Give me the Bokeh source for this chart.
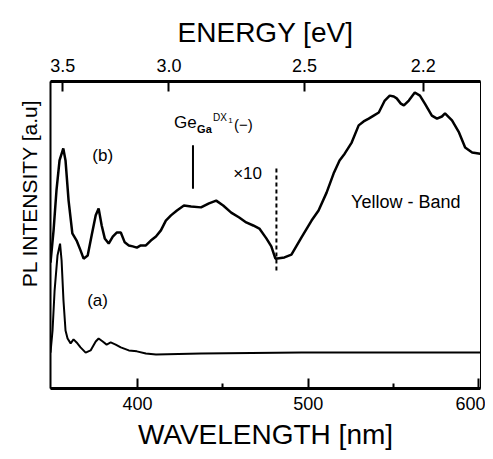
import math
from bokeh.plotting import figure
from bokeh.models import Range1d, LinearAxis, FixedTicker, Label, Title
from bokeh.embed import file_html
from bokeh.resources import INLINE

# ---- data ----
# curve (b): x10 spectrum (wavelength nm, intensity a.u.)
wl_b = [349.0, 350.8, 352.5, 354.3, 356.5, 357.8, 359.6, 361.8, 364.3, 366.6,
        368.4, 370.8, 373.1, 375.5, 377.2, 379.0, 380.8, 383.1, 385.5, 387.8,
        390.2, 392.5, 394.9, 397.2, 399.6, 401.9, 404.9, 407.8, 410.8, 413.7,
        416.6, 419.6, 423.1, 427.2, 431.4, 437.2, 441.9, 446.1, 450.2, 454.9,
        459.6, 463.7, 467.8, 471.4, 475.5, 478.4, 480.8, 486.1, 490.2, 496.1,
        502.0, 506.1, 510.8, 514.9, 518.4, 521.4, 525.5, 529.6, 532.5, 535.5,
        538.4, 541.4, 544.9, 547.8, 550.2, 551.9, 554.3, 556.1, 559.0, 562.5,
        565.5, 568.4, 572.5, 575.5, 578.4, 580.2, 584.3, 588.4, 592.0, 596.1,
        600.8]
int_b = [41.0, 51.5, 64.5, 74.3, 78.2, 74.3, 61.2, 50.5, 48.2, 45.0,
         42.3, 43.3, 49.8, 56.4, 58.6, 53.1, 48.9, 47.2, 49.5, 50.8,
         50.8, 47.6, 46.6, 46.3, 45.9, 46.6, 46.6, 48.2, 49.5, 51.5,
         54.7, 56.4, 58.0, 59.6, 59.3, 59.0, 60.3, 61.2, 59.6, 57.3,
         55.7, 54.1, 53.1, 52.1, 48.9, 46.3, 42.3, 42.7, 43.6, 49.2,
         54.7, 58.0, 63.8, 70.0, 74.3, 76.5, 80.1, 85.7, 87.0, 87.9,
         88.9, 89.9, 93.8, 95.4, 95.1, 94.5, 92.8, 92.2, 93.8, 96.4,
         95.4, 92.8, 88.9, 87.9, 88.6, 89.6, 87.3, 83.4, 78.5, 76.9,
         76.5]

# curve (a)
wl_a = [349.0, 350.2, 351.4, 353.1, 354.6, 355.5, 356.6, 357.8, 359.0, 360.8,
        362.5, 364.3, 366.6, 369.6, 372.5, 375.5, 377.2, 379.6, 381.9, 384.3,
        387.2, 390.2, 394.9, 399.6, 404.9, 410.8, 437.2, 496.1, 554.9, 600.8]
int_a = [11.7, 18.9, 31.9, 43.3, 47.2, 41.7, 28.7, 18.9, 16.3, 14.7,
         16.0, 15.0, 13.4, 11.7, 12.4, 15.3, 16.3, 15.3, 14.3, 15.0,
         14.3, 13.4, 12.4, 12.1, 11.4, 11.1, 11.4, 11.7, 11.7, 11.7]

wl_ticks = [400, 500, 600]
wl_minor = [450, 550]
energy_labels = ["3.5", "3.0", "2.5", "2.2"]
energy_tick_nm = [356.2, 418.4, 497.8, 567.5]

ge_line_nm = 432.5        # Ge_Ga DX(-) marker
x10_line_nm = 481.4       # x10 break (dashed)

FONT = "Liberation Sans"

p = figure(width=485, height=454, x_range=Range1d(349, 601), y_range=Range1d(0, 100),
           x_axis_type=None, y_axis_type=None, output_backend="svg",
           toolbar_location=None, min_border_left=50, min_border_right=5,
           min_border_top=81, min_border_bottom=66)
p.background_fill_color = "white"
p.border_fill_color = "white"
p.outline_line_color = "black"
p.outline_line_width = 1
p.xgrid.visible = False
p.ygrid.visible = False

# bottom axis
xb = LinearAxis(ticker=FixedTicker(ticks=wl_ticks, minor_ticks=wl_minor))
xb.axis_line_width = 3
xb.major_tick_in = 10
xb.major_tick_out = 0
xb.major_tick_line_width = 2
xb.minor_tick_in = 5
xb.minor_tick_out = 0
xb.minor_tick_line_width = 2
xb.major_label_standoff = 8
xb.major_label_text_font = FONT
xb.major_label_text_font_size = "18px"
xb.major_label_text_color = "black"
xb.axis_label = "WAVELENGTH [nm]"
xb.axis_label_text_font = FONT
xb.axis_label_text_font_size = "28px"
xb.axis_label_text_font_style = "normal"
xb.axis_label_text_color = "black"
xb.axis_label_standoff = 6
p.add_layout(xb, "below")

# top axis (energy)
xt = LinearAxis(ticker=FixedTicker(ticks=energy_tick_nm, minor_ticks=[]))
xt.major_label_overrides = {t: l for t, l in zip(energy_tick_nm, energy_labels)}
xt.axis_line_width = 3
xt.major_tick_in = 10
xt.major_tick_out = 0
xt.major_tick_line_width = 2
xt.minor_tick_in = 0
xt.minor_tick_out = 0
xt.major_label_standoff = 10
xt.major_label_text_font = FONT
xt.major_label_text_font_size = "18px"
xt.major_label_text_color = "black"
xt.axis_label = "ENERGY [eV]"
xt.axis_label_text_font = FONT
xt.axis_label_text_font_size = "28px"
xt.axis_label_text_font_style = "normal"
xt.axis_label_text_color = "black"
xt.axis_label_standoff = 8
p.add_layout(xt, "above")

# left axis: line only
yl = LinearAxis(ticker=FixedTicker(ticks=[], minor_ticks=[]))
yl.axis_line_width = 2
yl.major_tick_in = 0
yl.major_tick_out = 0
yl.minor_tick_in = 0
yl.minor_tick_out = 0
yl.major_label_text_font_size = "0px"
p.add_layout(yl, "left")

# y title as a left-side title, near the top of the frame
p.add_layout(Title(text="PL INTENSITY  [a.u]", align="right", offset=12,
                   text_font=FONT, text_font_size="21px", text_font_style="normal",
                   text_color="black", standoff=20), "left")

# curves
p.line(wl_b, int_b, line_color="black", line_width=2.5)
p.line(wl_a, int_a, line_color="black", line_width=2)

# marker lines
p.segment(x0=[ge_line_nm], y0=[65.1], x1=[ge_line_nm], y1=[79.2], line_color="black", line_width=2)
p.segment(x0=[x10_line_nm], y0=[38.4], x1=[x10_line_nm], y1=[71.7], line_color="black",
          line_width=2, line_dash="4 3")

def lab(x, y, text, size, align="center", baseline="middle", **kw):
    p.add_layout(Label(x=x, y=y, text=text, text_font=FONT, text_font_size=size,
                       text_align=align, text_baseline=baseline, text_color="black", **kw))

lab(379.6, 75.9, "(b)", "17px")
lab(376.6, 28.7, "(a)", "17px")
lab(464.5, 70.0, "×10", "17px")
lab(557.2, 60.6, "Yellow - Band", "18px")

# Ge_Ga^DX1(-)
lab(421.4, 86.5, "Ge", "17px", align="left", baseline="alphabetic")
lab(434.9, 84.5, "Ga", "11px", align="left", baseline="alphabetic", text_font_style="bold")
lab(444.3, 88.3, "DX", "10px", align="left", baseline="alphabetic")
lab(453.1, 87.3, "1", "8px", align="left", baseline="alphabetic")
lab(456.6, 86.0, "(−)", "15px", align="left", baseline="alphabetic")

open("out.html", "w").write(file_html(p, INLINE))
